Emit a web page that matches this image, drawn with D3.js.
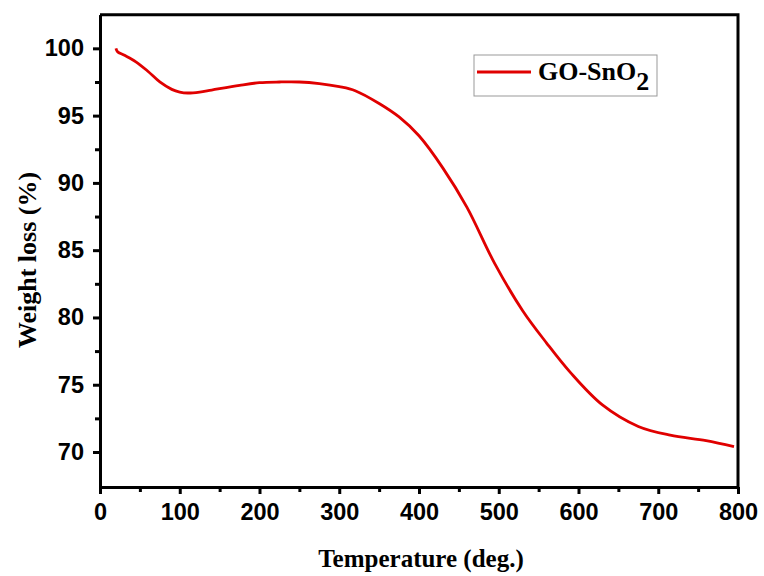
<!DOCTYPE html>
<html>
<head>
<meta charset="utf-8">
<script src="https://cdn.jsdelivr.net/npm/d3@7"></script>
<style>
  body { margin: 0; background: #fff; }
  .tick text { font-family: "Liberation Sans", Arial, sans-serif; font-weight: bold; font-size: 23.5px; fill: #000; }
  .axis-label { font-family: "Liberation Serif", "Times New Roman", serif; font-weight: bold; font-size: 25px; fill: #000; }
</style>
</head>
<body>
<svg id="chart"></svg>
<script>
// TGA curve
const temperature = [20, 22, 30, 45, 60, 75, 90, 100, 110, 125, 140, 175, 200, 225, 250, 275, 300, 320, 350, 375, 400, 430, 460, 495, 530, 560, 590, 630, 675, 715, 760, 795];
const weight = [100.0, 99.75, 99.5, 99.0, 98.3, 97.5, 96.95, 96.75, 96.68, 96.75, 96.9, 97.25, 97.45, 97.5, 97.5, 97.38, 97.15, 96.85, 95.9, 94.9, 93.5, 91.1, 88.2, 84.0, 80.5, 78.1, 75.9, 73.5, 71.9, 71.25, 70.85, 70.4];
const xTicks = [0, 100, 200, 300, 400, 500, 600, 700, 800];
const xMinor = [50, 150, 250, 350, 450, 550, 650, 750];
const yTicks = [70, 75, 80, 85, 90, 95, 100];
const yMinor = [72.5, 77.5, 82.5, 87.5, 92.5, 97.5];
const seriesName = "GO-SnO";

const width = 764, height = 576;
const svg = d3.select("#chart").attr("width", width).attr("height", height);

const x = d3.scaleLinear().domain([0, 800]).range([100, 738]);
const y = d3.scaleLinear().domain([67.4, 102.5]).range([487, 14.7]);

// frame top + right
svg.append("path")
  .attr("d", `M${x.range()[0]},${y.range()[1]}H${x.range()[1]}V${y.range()[0]}`)
  .attr("fill", "none").attr("stroke", "#000").attr("stroke-width", 3);

// x axis
svg.append("g").attr("transform", `translate(0,${y.range()[0]})`)
  .call(d3.axisBottom(x).tickValues(xTicks).tickSize(7).tickSizeOuter(0).tickPadding(9));
svg.append("g").attr("transform", `translate(0,${y.range()[0]})`)
  .call(d3.axisBottom(x).tickValues(xMinor).tickSize(5).tickSizeOuter(0).tickFormat(""));

// y axis
svg.append("g").attr("transform", `translate(${x.range()[0]},0)`)
  .call(d3.axisLeft(y).tickValues(yTicks).tickSize(7).tickSizeOuter(0).tickPadding(9));
svg.append("g").attr("transform", `translate(${x.range()[0]},0)`)
  .call(d3.axisLeft(y).tickValues(yMinor).tickSize(5).tickSizeOuter(0).tickFormat(""));

svg.selectAll(".domain").attr("stroke", "#000").attr("stroke-width", 3);
svg.selectAll(".tick line").attr("stroke", "#000").attr("stroke-width", 3);

// curve
const pts = temperature.map((t, i) => [t, weight[i]]);
svg.append("path")
  .datum(pts)
  .attr("fill", "none")
  .attr("stroke", "#e00000")
  .attr("stroke-width", 2.8)
  .attr("d", d3.line().x(d => x(d[0])).y(d => y(d[1])).curve(d3.curveCatmullRom));

// axis labels
svg.append("text").attr("class", "axis-label")
  .attr("x", 421).attr("y", 567).attr("text-anchor", "middle")
  .text("Temperature (deg.)");

svg.append("text").attr("class", "axis-label")
  .style("font-size", "26px")
  .attr("transform", "translate(36,260) rotate(-90)")
  .attr("text-anchor", "middle")
  .text("Weight loss (%)");

// legend
const lg = svg.append("g");
lg.append("rect").attr("x", 474).attr("y", 55).attr("width", 183).attr("height", 41)
  .attr("fill", "#fff").attr("stroke", "#999").attr("stroke-width", 1);
lg.append("line").attr("x1", 477).attr("x2", 531).attr("y1", 72).attr("y2", 72)
  .attr("stroke", "#e00000").attr("stroke-width", 2.8);
const lt = lg.append("text").attr("class", "axis-label").style("font-size", "26px")
  .attr("x", 538).attr("y", 80);
lt.append("tspan").text(seriesName);
lt.append("tspan").attr("dy", 10).style("font-size", "26px").text("2");
</script>
</body>
</html>
